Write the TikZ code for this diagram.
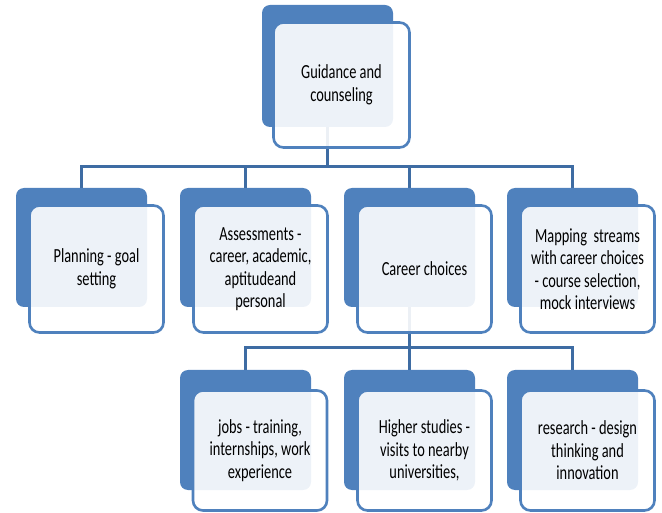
\documentclass[tikz,border=0pt]{standalone}
\usepackage{fontspec}
\setmainfont{Carlito}[FakeStretch=0.72]
\begin{document}
\begin{tikzpicture}[x=1pt,y=-1pt,
  back/.style={fill=boxblue, draw=none, rounded corners=8pt},
  front/.style={fill=white, fill opacity=0.9, draw=boxblue, line width=2.6pt,
    rounded corners=10pt, text opacity=1, align=center,
    font=\fontsize{20}{22.5}\selectfont},
  link/.style={draw=linkblue, line width=3pt}]
\definecolor{boxblue}{HTML}{4F81BD}
\definecolor{linkblue}{HTML}{3E6CA3}
\useasboundingbox (0,0) rectangle (662,513);

% levels of the connector bars
\coordinate (bar1) at (0,167);
\coordinate (bar2) at (0,348);

% attachment points at the centres of the back blocks
\foreach \nm/\x/\y/\h in {p/16/188/119, a/180/188/119, c/344/188/119, m/507/188/119,
                        j/180/370/120, h/344/370/120, r/507/370/120}{
  \coordinate (\nm-top) at ({\x+65.5},\y);
  \coordinate (\nm-bot) at ({\x+65.5},{\y+\h});
}
\coordinate (root-bot) at (327.5,127);

% connectors
\draw[link] (root-bot) -- (root-bot |- bar1);
\draw[link] (p-top) -- (p-top |- bar1) -- (m-top |- bar1) -- (m-top);
\draw[link] (a-top) -- (a-top |- bar1);
\draw[link] (c-top) -- (c-top |- bar1);
\draw[link] (c-bot) -- (c-bot |- bar2);
\draw[link] (j-top) -- (j-top |- bar2) -- (r-top |- bar2) -- (r-top);
\draw[link] (h-top) -- (h-top |- bar2);

% back blocks
\path[back] (262,5) rectangle (393,127);
\foreach \x/\y/\h in {16/188/119, 180/188/119, 344/188/119, 507/188/119,
                      180/370/120, 344/370/120, 507/370/120}{
  \path[back] (\x,\y) rectangle ({\x+131},{\y+\h});
}

% front boxes with text
\node[front, minimum width=136pt, minimum height=125pt] (root) at (341.5,85)
  {Guidance and\\counseling};

\node[front, minimum width=134pt, minimum height=127pt] (plan) at (96.5,269)
  {Planning - goal\\setting};
\node[front, minimum width=134pt, minimum height=127pt] (assess) at (260.5,269)
  {Assessments -\\career, academic,\\aptitudeand\\personal};
\node[front, minimum width=134pt, minimum height=127pt] (career) at (424.5,269)
  {Career choices};
\node[front, minimum width=134pt, minimum height=127pt] (mapping) at (587.5,269)
  {Mapping\ \ streams\\with career choices\\- course selection,\\mock interviews};

\node[front, minimum width=134pt, minimum height=120pt] (jobs) at (260,450.5)
  {jobs - training,\\internships, work\\experience};
\node[front, minimum width=134pt, minimum height=120pt] (higher) at (424.5,450.5)
  {Higher studies -\\visits to nearby\\universities,};
\node[front, minimum width=134pt, minimum height=120pt] (research) at (587.5,450.5)
  {research - design\\thinking and\\innovation};
\end{tikzpicture}
\end{document}
